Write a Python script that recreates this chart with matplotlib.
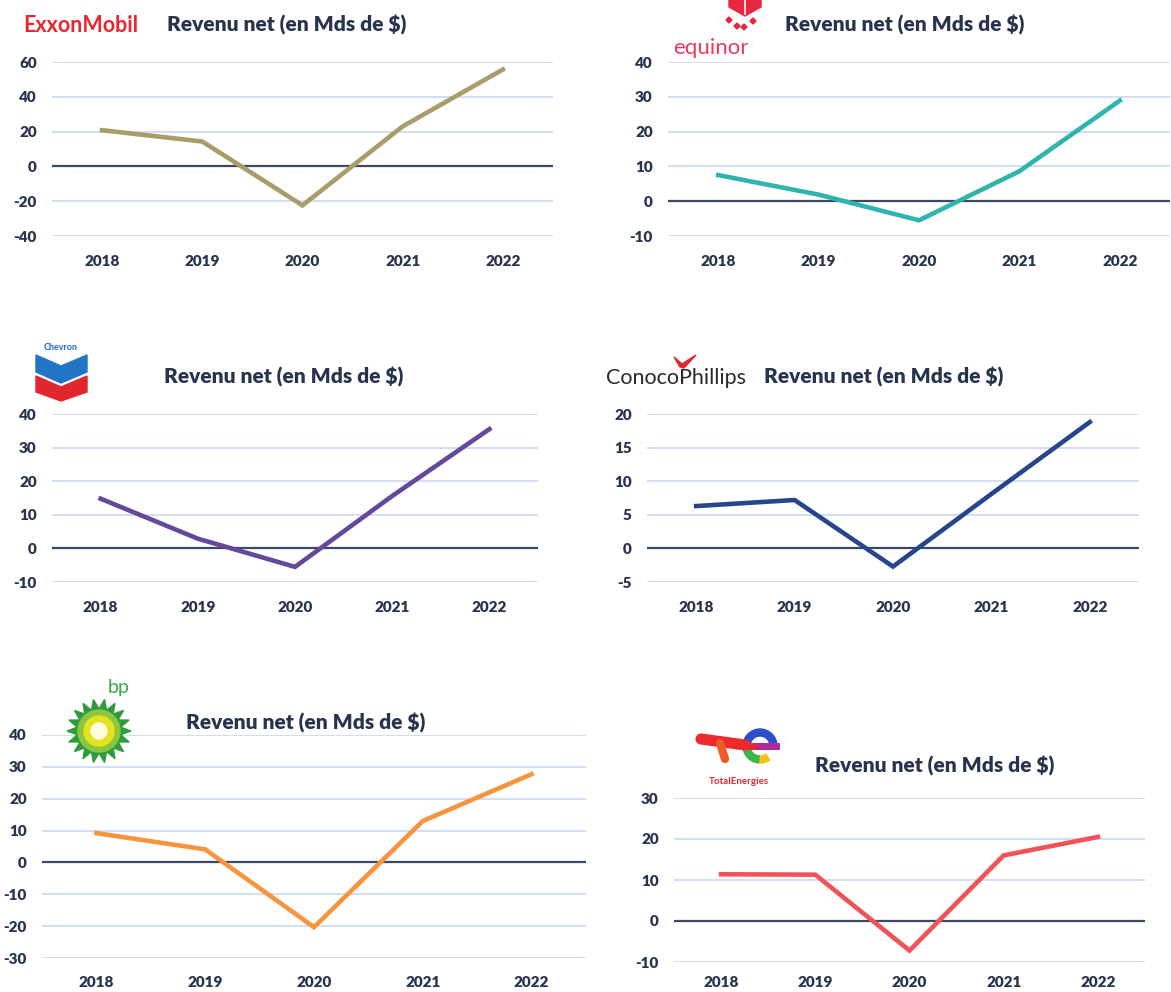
import matplotlib
matplotlib.use('Agg')
import matplotlib.pyplot as plt
import numpy as np
from matplotlib.patches import Polygon, Circle, Wedge

W, H = 1171, 992

years = ['2018', '2019', '2020', '2021', '2022']
exxon = [20.8, 14.3, -22.4, 23.0, 55.7]
equinor = [7.5, 1.9, -5.5, 8.6, 28.9]
chevron = [14.8, 2.9, -5.5, 15.6, 35.5]
conoco = [6.3, 7.2, -2.7, 8.1, 18.8]
bp = [9.2, 4.1, -20.3, 13.0, 27.7]
total = [11.4, 11.3, -7.2, 16.0, 20.5]

exxon_ticks = [-40, -20, 0, 20, 40, 60]
equinor_ticks = [-10, 0, 10, 20, 30, 40]
chevron_ticks = [-10, 0, 10, 20, 30, 40]
conoco_ticks = [-5, 0, 5, 10, 15, 20]
bp_ticks = [-30, -20, -10, 0, 10, 20, 30, 40]
total_ticks = [-10, 0, 10, 20, 30]

title = 'Revenu net (en Mds de $)'
txt_col = '#27334f'
grid_col = '#c8d5ef'
zero_col = '#3b4866'

plt.rcParams['font.family'] = ['Lato', 'DejaVu Sans']
plt.rcParams['axes.unicode_minus'] = False

fig = plt.figure(figsize=(W / 100, H / 100), dpi=100)


def ax_px(l, t, r, b):
    return fig.add_axes([l / W, 1 - b / H, (r - l) / W, (b - t) / H])


def panel(rect, vals, ticks, color, title_xy, xpad=14):
    ax = ax_px(*rect)
    for tk in ticks:
        if tk == 0:
            ax.axhline(0, color=zero_col, lw=1.6, zorder=2)
        else:
            ax.axhline(tk, color=grid_col, lw=1.1, zorder=1)
    ax.plot(range(len(years)), vals, color=color, lw=3.3, zorder=3,
            solid_joinstyle='miter', clip_on=False)
    ax.set_xlim(-0.5, 4.5)
    ax.set_ylim(ticks[0], ticks[-1])
    ax.set_xticks(range(len(years)))
    ax.set_xticklabels(years)
    ax.set_yticks(ticks)
    ax.tick_params(length=0, labelsize=11, labelcolor=txt_col)
    ax.tick_params(axis='y', pad=11)
    ax.tick_params(axis='x', pad=xpad)
    for lab in ax.get_xticklabels() + ax.get_yticklabels():
        lab.set_fontweight('heavy')
    for s in ax.spines.values():
        s.set_visible(False)
    ax.set_facecolor('none')
    fig.text(title_xy[0] / W, 1 - title_xy[1] / H, title, fontsize=15,
             fontweight='heavy', color=txt_col, ha='left', va='center')
    return ax


panel((52, 62, 553, 236), exxon, exxon_ticks, '#a99c6b', (167, 25))
panel((668, 62, 1170, 236), equinor, equinor_ticks, '#2fb5ae', (785, 25))
panel((52, 414, 538, 582), chevron, chevron_ticks, '#64489a', (164, 377))
panel((647, 414, 1139, 582), conoco, conoco_ticks, '#27468a', (764, 377))
panel((42, 735, 586, 958), bp, bp_ticks, '#f7953f', (186, 723), xpad=13)
panel((674, 798, 1145, 962), total, total_ticks, '#f05257', (815, 766), xpad=10)

# overlay for logos, pixel coordinates
ov = fig.add_axes([0, 0, 1, 1])
ov.set_xlim(0, W)
ov.set_ylim(H, 0)
ov.axis('off')
ov.set_facecolor('none')

# ExxonMobil
ov.text(23, 25, 'ExxonMobil', fontsize=15.5, fontweight='bold', color='#e8262f',
        ha='left', va='center')

# Equinor
ov.text(673, 48, 'equinor', fontsize=16, color='#e83a5c', ha='left', va='center')
ov.add_patch(Polygon([(729, 0), (761, 0), (761, 7), (745, 16), (729, 7)],
                     closed=True, color='#e8263f'))
ov.plot([745, 745], [0, 14], color='white', lw=1.2)
for (cx, cy) in [(729, 20), (744, 27), (753, 21), (737, 26)]:
    ov.add_patch(Polygon([(cx - 3, cy), (cx, cy - 3), (cx + 3, cy), (cx, cy + 3)],
                         closed=True, color='#e8263f'))

# Chevron
ov.text(61, 348, 'Chevron', fontsize=6.5, fontweight='bold', color='#1f6fc0',
        ha='center', va='center')
ov.add_patch(Polygon([(36, 355), (61, 366), (87, 355), (87, 372), (61, 383), (36, 372)],
                     closed=True, color='#2275c4'))
ov.add_patch(Polygon([(36, 376), (61, 387), (87, 376), (87, 392), (61, 401), (36, 392)],
                     closed=True, color='#e2262e'))

# ConocoPhillips
ov.text(606, 378, 'ConocoPhillips', fontsize=15.5, color='#2a2a2a', ha='left',
        va='center')
ov.add_patch(Polygon([(674, 357), (682, 364), (696, 355), (684, 368), (680, 367)],
                     closed=True, color='#e2262e'))

# bp
ang = np.linspace(0, 2 * np.pi, 37)[:-1]
rad = np.where(np.arange(36) % 2 == 0, 32, 22)
cx, cy = 99, 731
ov.add_patch(Polygon(np.c_[cx + rad * np.cos(ang), cy + rad * np.sin(ang)],
                     closed=True, color='#2e9c3c'))
ov.add_patch(Circle((cx, cy), 21, color='#8cc63f'))
ov.add_patch(Circle((cx, cy), 15, color='#e3e41f'))
ov.add_patch(Circle((cx, cy), 8, color='#fdfde0'))
ov.text(119, 688, 'bp', fontsize=14, color='#3aa54a', ha='center', va='center')

# TotalEnergies
ex, ey = 760, 746
ov.add_patch(Wedge((ex, ey), 17, 180, 360, width=7, color='#2d4fc9'))
ov.add_patch(Wedge((ex, ey), 17, 0, 12, width=7, color='#6a3fc0'))
ov.add_patch(Wedge((ex, ey), 17, 55, 95, width=7, color='#f2c318'))
ov.add_patch(Wedge((ex, ey), 17, 95, 180, width=7, color='#3cb54a'))
ov.plot([744, 760], [ey, ey], color='#e8262f', lw=5)
ov.plot([760, 776], [ey, ey], color='#b02a9a', lw=5)
ov.plot([701, 745], [739, 745], color='#ee2a2f', lw=8, solid_capstyle='round')
ov.plot([720, 725], [743, 759], color='#f05a24', lw=6, solid_capstyle='round')
ov.text(739, 782, 'TotalEnergies', fontsize=7, fontweight='bold', color='#e8262f',
        ha='center', va='center')

fig.savefig('out.png', dpi=100, facecolor='white')
